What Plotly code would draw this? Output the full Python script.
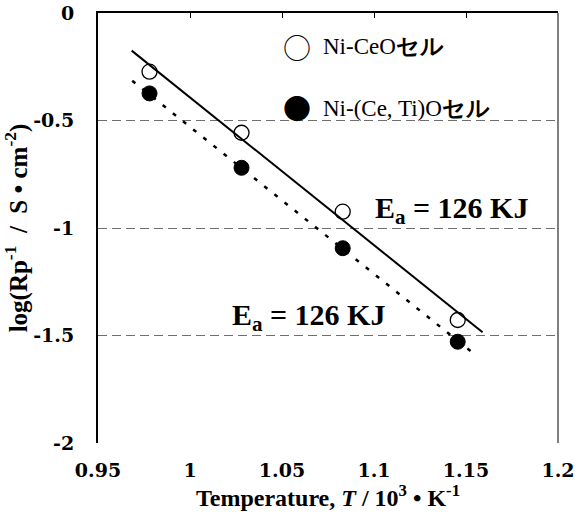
import plotly.graph_objects as go

# Data
inv_T = [0.978, 1.028, 1.083, 1.1455]
log_ceo = [-0.273, -0.557, -0.924, -1.428]
log_ceti = [-0.374, -0.720, -1.094, -1.529]

fit_ceo_x = [0.9683, 1.159]
fit_ceo_y = [-0.175, -1.485]
fit_ceti_x = [0.9686, 1.1554]
fit_ceti_y = [-0.315, -1.592]

x_ticks = [0.95, 1.0, 1.05, 1.1, 1.15, 1.2]
x_ticktext = ["0.95", "1", "1.05", "1.1", "1.15", "1.2"]
y_ticks = [0, -0.5, -1, -1.5, -2]
y_ticktext = ["0", "-0.5", "-1", "-1.5", "-2"]

legend_names = ["Ni-CeOセル", "Ni-(Ce, Ti)Oセル"]
legend_symbols = ["○", "●"]
ea_label = "<b>E<sub>a</sub> = 126 KJ</b>"

SERIF = "Liberation Serif"
TICKFONT = "DejaVu Serif"

fig = go.Figure()

fig.add_trace(go.Scatter(x=fit_ceo_x, y=fit_ceo_y, mode="lines", xaxis="x2",
                         line=dict(color="black", width=2), showlegend=False))
fig.add_trace(go.Scatter(x=fit_ceti_x, y=fit_ceti_y, mode="lines",
                         line=dict(color="black", width=2.5, dash="4px,9px"),
                         showlegend=False))
fig.add_trace(go.Scatter(x=inv_T, y=log_ceo, mode="markers", name=legend_names[0],
                         marker=dict(symbol="circle", size=15, color="white",
                                     line=dict(color="black", width=1.3)),
                         showlegend=False))
fig.add_trace(go.Scatter(x=inv_T, y=log_ceti, mode="markers", name=legend_names[1],
                         marker=dict(symbol="circle", size=15, color="black",
                                     line=dict(color="black", width=1)),
                         showlegend=False))

fig.update_layout(
    template="none",
    width=577, height=528,
    margin=dict(l=98, r=19, t=13, b=85, pad=0),
    paper_bgcolor="white", plot_bgcolor="white",
    font=dict(family=SERIF, color="black", size=24),
    xaxis=dict(range=[0.95, 1.2], tickmode="array", tickvals=x_ticks,
               ticktext=["<b>%s</b>" % t for t in x_ticktext],
               showgrid=False, zeroline=False, showline=False,
               ticks="outside", ticklen=10, tickcolor="rgba(0,0,0,0)",
               automargin=False,
               tickfont=dict(family=TICKFONT, size=19, color="black", weight="bold"),
               title=dict(text="<b>Temperature, <i>T</i> / 10<sup>3</sup> • K<sup>-1</sup></b>",
                          font=dict(family=SERIF, size=24, color="black"), standoff=8)),
    xaxis2=dict(range=[0.95, 1.2], overlaying="x", side="top",
                tickmode="array", tickvals=[1.0, 1.05, 1.1, 1.15],
                ticks="inside", ticklen=5, tickcolor="black",
                showticklabels=False, showgrid=False, zeroline=False,
                showline=True, linecolor="black", linewidth=2, automargin=False),
    yaxis=dict(range=[-2, 0], tickmode="array", tickvals=y_ticks,
               ticktext=["<b>%s</b>" % t for t in y_ticktext],
               showgrid=True, gridcolor="#6e6e6e", gridwidth=1, griddash="9px,5px",
               zeroline=False, showline=True, linecolor="black", linewidth=2,
               ticks="outside", ticklen=18, tickcolor="rgba(0,0,0,0)",
               automargin=False,
               tickfont=dict(family=TICKFONT, size=19, color="black", weight="bold"),
               title=dict(text="<b>log(Rp<sup>-1</sup>  /  S • cm<sup>-2</sup>)</b>",
                          font=dict(family=SERIF, size=25, color="black"), standoff=0)),
)

# right frame line
fig.add_shape(type="line", xref="paper", yref="paper", x0=1, x1=1, y0=0, y1=1,
              line=dict(color="#555555", width=1.5))

# legend as text: big symbol glyph + label
for sym, name, yy in zip(legend_symbols, legend_names, [0.921, 0.779]):
    core, jp = name[:-2], name[-2:]
    fig.add_annotation(text=sym, xref="paper", yref="paper", x=0.4326, y=yy,
                       xanchor="center", yanchor="middle", showarrow=False,
                       font=dict(family="Noto Sans CJK JP", size=28, color="black"))
    fig.add_annotation(text="%s<b>%s</b>" % (core, jp), xref="paper", yref="paper",
                       x=0.485, y=yy, xanchor="left", yanchor="middle", showarrow=False,
                       font=dict(family=SERIF, size=23, color="black"))

fig.add_annotation(text=ea_label, x=1.0995, y=-0.915, xanchor="left", yanchor="middle",
                   showarrow=False, font=dict(family=SERIF, size=30, color="black"))
fig.add_annotation(text=ea_label, x=1.0217, y=-1.415, xanchor="left", yanchor="middle",
                   showarrow=False, font=dict(family=SERIF, size=30, color="black"))

fig.write_html("out.html", config={"displayModeBar": False},
               post_script="document.body.style.margin='0px';document.body.style.padding='0px';")
